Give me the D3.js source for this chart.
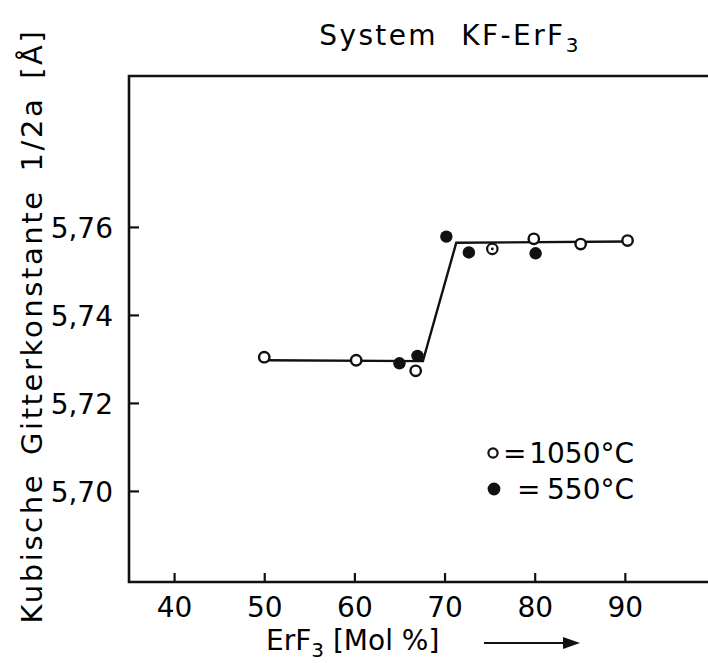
<!DOCTYPE html>
<html>
<head>
<meta charset="utf-8">
<script src="https://cdn.jsdelivr.net/npm/d3@7"></script>
<style>
  html, body { margin: 0; padding: 0; background: #fff; }
  svg { display: block; }
  text { font-family: "DejaVu Sans", sans-serif; fill: #000; }
</style>
</head>
<body>
<svg id="chart" width="708" height="663"></svg>
<script>
// ---- data ----
const xTicks = [40, 50, 60, 70, 80, 90];
const yTicks = [5.70, 5.72, 5.74, 5.76];
const yTickLabels = ["5,70", "5,72", "5,74", "5,76"];

// open circles = 1050 °C
const open1050X = [50.0, 60.2, 66.8, 79.9, 85.1, 90.3];
const open1050Y = [5.7304, 5.7297, 5.7273, 5.7573, 5.7561, 5.7569];
// open circle with centre dot (1050 °C)
const dotted1050X = [75.3];
const dotted1050Y = [5.7550];
// filled circles = 550 °C
const filled550X = [65.0, 67.0, 70.2, 72.7, 80.1];
const filled550Y = [5.7290, 5.7307, 5.7578, 5.7542, 5.7540];
// drawn curve
const curveX = [50.0, 67.6, 71.3, 90.3];
const curveY = [5.7297, 5.7295, 5.7564, 5.7567];

const titleText = "System KF-ErF";
const yLabelText = "Kubische Gitterkonstante 1/2a [Å]";
const legendNumbers = ["1050°C", "550°C"];

(function () {
// ---- layout ----
const svg = d3.select("#chart");
const mLeft = 129, mTop = 76, mBottom = 582, mRight = 715;
const x = d3.scaleLinear().domain([35, 100]).range([mLeft, mRight]);
const y = d3.scaleLinear().domain([5.6793, 5.7943]).range([mBottom, mTop]);
const ink = "#111";
const fs = 28;

// frame (left, top, bottom lines)
svg.append("path").attr("d", `M708,${mTop}H${mLeft}V${mBottom}H708`)
  .attr("fill", "none").attr("stroke", ink).attr("stroke-width", 2.6);

// x axis ticks (inward)
const xAxis = d3.axisTop(x).tickValues(xTicks).tickSize(9).tickFormat(d => d);
const gx = svg.append("g").attr("transform", `translate(0,${mBottom})`).call(xAxis);
gx.select(".domain").remove();
gx.selectAll(".tick line").attr("stroke", ink).attr("stroke-width", 2.2);
gx.selectAll(".tick text").attr("y", 35).attr("dy", 0)
  .attr("font-size", fs).attr("font-family", "DejaVu Sans").attr("fill", ink);

// y axis ticks (inward)
const yAxis = d3.axisRight(y).tickValues(yTicks).tickSize(10)
  .tickFormat((d, i) => yTickLabels[i]);
const gy = svg.append("g").attr("transform", `translate(${mLeft},0)`).call(yAxis);
gy.select(".domain").remove();
gy.selectAll(".tick line").attr("stroke", ink).attr("stroke-width", 2.2);
gy.selectAll(".tick text").attr("x", -16).attr("text-anchor", "end").attr("dy", "0.36em")
  .attr("font-size", fs).attr("font-family", "DejaVu Sans").attr("fill", ink);

// curve
const line = d3.line().x(d => x(d[0])).y(d => y(d[1]));
svg.append("path").datum(d3.zip(curveX, curveY))
  .attr("d", line).attr("fill", "none").attr("stroke", ink).attr("stroke-width", 2.4);

// points
svg.append("g").selectAll("circle").data(d3.zip(open1050X, open1050Y)).join("circle")
  .attr("cx", d => x(d[0])).attr("cy", d => y(d[1])).attr("r", 5.2)
  .attr("fill", "#fff").attr("stroke", ink).attr("stroke-width", 2.4);
const dg = svg.append("g");
dg.selectAll("circle.o").data(d3.zip(dotted1050X, dotted1050Y)).join("circle").attr("class", "o")
  .attr("cx", d => x(d[0])).attr("cy", d => y(d[1])).attr("r", 5.2)
  .attr("fill", "#fff").attr("stroke", ink).attr("stroke-width", 2.2);
dg.selectAll("circle.c").data(d3.zip(dotted1050X, dotted1050Y)).join("circle").attr("class", "c")
  .attr("cx", d => x(d[0])).attr("cy", d => y(d[1])).attr("r", 1.4).attr("fill", ink);
svg.append("g").selectAll("circle").data(d3.zip(filled550X, filled550Y)).join("circle")
  .attr("cx", d => x(d[0])).attr("cy", d => y(d[1])).attr("r", 6.2)
  .attr("fill", ink);

// title
const t = svg.append("text").attr("x", 450).attr("y", 45).attr("text-anchor", "middle")
  .attr("font-size", fs).attr("letter-spacing", 2.4).attr("word-spacing", 12);
t.append("tspan").text(titleText);
t.append("tspan").attr("font-size", 20).attr("dy", 7).text("3");

// y label
svg.append("text").attr("transform", "translate(42,326) rotate(-90)")
  .attr("text-anchor", "middle").attr("font-size", 29).attr("letter-spacing", 2.6)
  .attr("word-spacing", 6).text(yLabelText);

// x label
const xl = svg.append("text").attr("x", 266).attr("y", 650).attr("font-size", fs);
xl.append("tspan").text("ErF");
xl.append("tspan").attr("font-size", 20).attr("dy", 7).text("3");
xl.append("tspan").attr("dy", -7).text(" [Mol %]");
// arrow
svg.append("line").attr("x1", 484).attr("x2", 572).attr("y1", 643).attr("y2", 643)
  .attr("stroke", ink).attr("stroke-width", 2.2);
svg.append("path").attr("d", "M563,637 L580,643 L563,649 Z").attr("fill", ink);

// legend
const lg = svg.append("g");
lg.append("circle").attr("cx", 493).attr("cy", 453).attr("r", 4.6)
  .attr("fill", "#fff").attr("stroke", ink).attr("stroke-width", 2.2);
lg.append("circle").attr("cx", 494).attr("cy", 489).attr("r", 6.4).attr("fill", ink);
lg.append("text").attr("x", 503).attr("y", 463).attr("font-size", fs).text("=");
lg.append("text").attr("x", 517).attr("y", 499).attr("font-size", fs).text("=");
lg.append("text").attr("x", 634).attr("y", 463).attr("text-anchor", "end")
  .attr("font-size", fs).text(legendNumbers[0]);
lg.append("text").attr("x", 634).attr("y", 499).attr("text-anchor", "end")
  .attr("font-size", fs).text(legendNumbers[1]);
})();
</script>
</body>
</html>
